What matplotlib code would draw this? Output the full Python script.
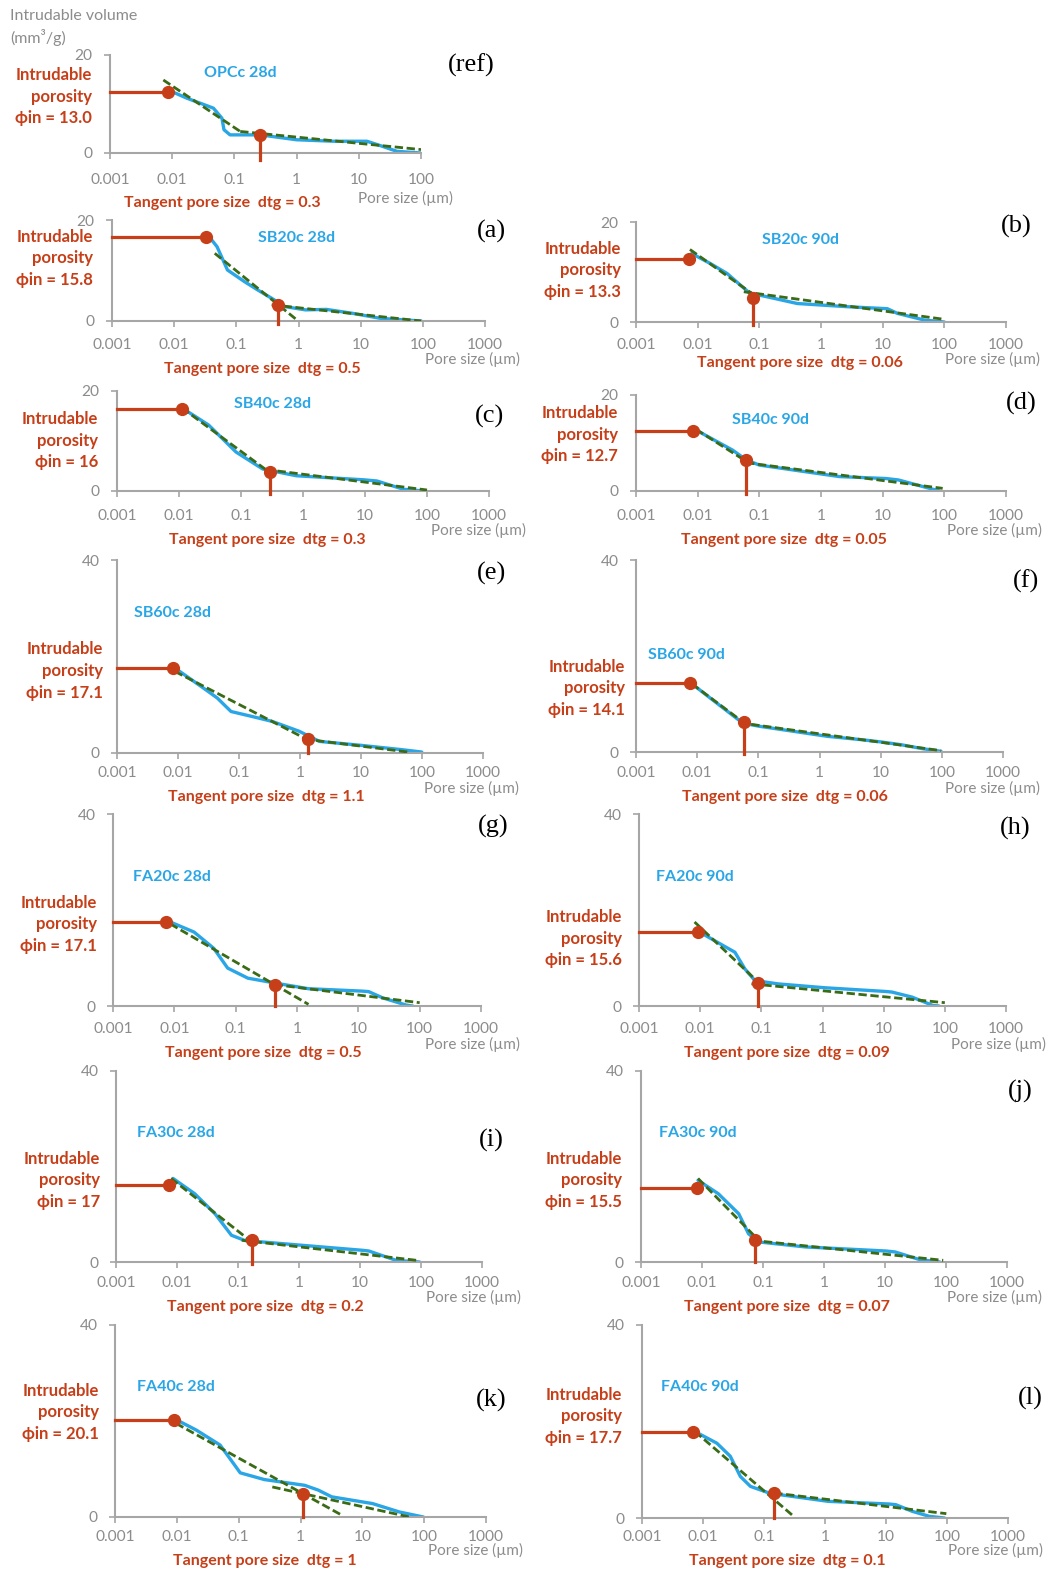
import matplotlib
matplotlib.use('Agg')
import matplotlib.pyplot as plt

plt.rcParams['font.family'] = ['Lato', 'DejaVu Sans']

W, H = 1051, 1573

# ---------------- Datos ----------------
panel_tags = ['(ref)', '(a)', '(b)', '(c)', '(d)', '(e)', '(f)', '(g)', '(h)',
              '(i)', '(j)', '(k)', '(l)']
samples = ['OPCc 28d', 'SB20c 28d', 'SB20c 90d', 'SB40c 28d', 'SB40c 90d',
           'SB60c 28d', 'SB60c 90d', 'FA20c 28d', 'FA20c 90d', 'FA30c 28d',
           'FA30c 90d', 'FA40c 28d', 'FA40c 90d']
phi_in = ['13.0', '15.8', '13.3', '16', '12.7', '17.1', '14.1', '17.1', '15.6',
          '17', '15.5', '20.1', '17.7']
d_tg = ['0.3', '0.5', '0.06', '0.3', '0.05', '1.1', '0.06', '0.5', '0.09',
        '0.2', '0.07', '1', '0.1']
y_max = [20, 20, 20, 20, 20, 40, 40, 40, 40, 40, 40, 40, 40]
x_max = [100, 1000, 1000, 1000, 1000, 1000, 1000, 1000, 1000, 1000, 1000, 1000, 1000]
x_ticklabels = ['0.001', '0.01', '0.1', '1', '10', '100', '1000']

# curva de intrusion (azul)
curve_x = [
    [0.0085, 0.0171, 0.046, 0.063, 0.068, 0.085, 0.26, 1.0, 3.9, 13.5, 20, 41, 100],
    [0.036, 0.049, 0.072, 0.135, 0.224, 0.37, 0.61, 1.3, 2.8, 7.6, 20.7, 94],
    [0.008, 0.016, 0.030, 0.046, 0.071, 0.117, 0.41, 2.66, 11.9, 17.3, 47, 100],
    [0.0112, 0.030, 0.083, 0.224, 0.78, 9.5, 15.6, 42, 89],
    [0.0094, 0.037, 0.061, 0.1, 0.57, 2.0, 11.3, 18, 83],
    [0.0089, 0.0265, 0.044, 0.074, 0.16, 0.35, 0.97, 2.09, 9.8, 46, 99],
    [0.0082, 0.0177, 0.056, 0.105, 0.38, 1.35, 4.8, 10.4, 22, 48, 97],
    [0.0086, 0.021, 0.044, 0.074, 0.158, 0.43, 1.54, 11.6, 14.7, 24.9, 60, 77],
    [0.0092, 0.0196, 0.037, 0.054, 0.0785, 0.19, 1.1, 10.7, 13.7, 29, 63, 80],
    [0.0086, 0.0195, 0.042, 0.078, 0.13, 1.12, 11, 14, 39, 95],
    [0.0086, 0.0185, 0.04, 0.058, 0.085, 0.5, 10.5, 14.7, 37, 79],
    [0.0097, 0.0207, 0.05, 0.083, 0.106, 0.26, 1.17, 1.94, 3.2, 14.6, 40, 97],
    [0.0074, 0.0169, 0.028, 0.041, 0.06, 0.114, 0.19, 1.13, 11.2, 14.5, 27, 51.5, 91],
]
curve_y = [
    [12.9, 11.2, 9.15, 7.1, 4.75, 3.7, 3.7, 2.7, 2.4, 2.4, 1.7, 0.34, 0],
    [16.8, 14.7, 10.1, 7.8, 6.1, 4.5, 2.84, 2.2, 2.3, 1.5, 0.53, 0],
    [13.7, 11.7, 9.7, 7.7, 5.7, 5.2, 3.7, 3.06, 2.66, 1.73, 0.4, 0],
    [16.6, 13.2, 7.8, 4.4, 3.05, 2.24, 2.0, 0.34, 0],
    [12.7, 8.5, 6.5, 5.4, 4.0, 3.0, 2.6, 2.3, 0],
    [17.6, 13.4, 11.4, 8.6, 7.6, 6.55, 4.5, 2.4, 1.6, 0.7, 0.2],
    [14.2, 10.9, 6.0, 5.35, 4.3, 3.26, 2.57, 2.08, 1.5, 0.7, 0.14],
    [17.5, 15.4, 12.0, 7.9, 5.8, 4.8, 3.6, 3.1, 3.0, 1.7, 0.2, 0],
    [15.6, 13.2, 11.2, 7.7, 5.3, 4.6, 3.8, 3.03, 2.9, 1.86, 0.14, 0],
    [17.5, 14.3, 10.1, 5.6, 4.5, 3.5, 2.45, 2.3, 0.35, 0],
    [17.1, 14.3, 10.1, 5.9, 4.2, 3.15, 2.3, 2.1, 0.5, 0],
    [20.3, 18.1, 15.0, 11.1, 9.2, 7.8, 6.6, 5.6, 4.2, 2.8, 1.04, 0],
    [17.9, 15.5, 12.8, 8.6, 6.55, 5.3, 4.8, 3.45, 2.9, 2.76, 1.38, 0.34, 0],
]

# tangentes (verde discontinua)
tan1_x = [[0.0072, 0.124], [0.045, 0.99], [0.0075, 0.076], [0.0112, 0.25],
          [0.0094, 0.069], [0.0089, 1.33], [0.0082, 0.059], [0.0086, 1.54],
          [0.0081, 0.089], [0.008, 0.168], [0.0086, 0.085], [0.0097, 4.7],
          [0.0074, 0.316]]
tan1_y = [[14.9, 4.4], [13.4, 0], [14.5, 5.7], [16.6, 4.3], [12.85, 5.76],
          [16.9, 2.76], [14.2, 6.04], [17.1, 0.34], [17.5, 4.97], [17.5, 4.2],
          [17.5, 4.55], [19.5, 0.35], [17.9, 0.2]]
tan2_x = [[0.124, 100], [0.37, 94], [0.056, 100], [0.25, 100], [0.061, 94],
          [1.17, 59], [0.049, 97], [0.43, 100], [0.069, 100], [0.115, 95],
          [0.066, 90], [0.35, 58.5], [0.147, 97.5]]
tan2_y = [[4.4, 0.7], [3.2, 0], [6.05, 0.53], [4.3, 0.2], [5.9, 0.55],
          [2.9, 0.2], [6.1, 0.28], [4.46, 0.69], [4.62, 0.69], [4.55, 0.28],
          [4.55, 0.35], [6.26, 0], [5.17, 0.9]]

# puntos rojos
dot_in_x = [0.0085, 0.033, 0.0072, 0.0112, 0.0083, 0.0083, 0.0077, 0.0072,
            0.0092, 0.0074, 0.0082, 0.0091, 0.0069]
dot_in_y = [12.5, 16.7, 12.7, 16.4, 12.6, 17.7, 14.4, 17.5, 15.4, 16.1, 15.4,
            20.2, 17.9]
dot_tg_x = [0.26, 0.46, 0.079, 0.29, 0.061, 1.37, 0.059, 0.43, 0.089, 0.168,
            0.0745, 1.1, 0.144]
dot_tg_y = [3.7, 3.17, 4.85, 3.73, 6.46, 2.97, 6.25, 4.46, 4.76, 4.55, 4.55,
            4.73, 5.17]

# ---------------- Layout (pixeles) ----------------
# L, R, Y0, YT, label right x, label center y, sample (x, y), tag (x, y),
# tangent text (x, y), pore size text (right x, y), x tick label y, drop below axis
layout = [
    (110, 421, 153, 55, 92, 97, (240, 73), (471, 65), (222, 203), (453, 198), 178, 7),
    (112, 485, 321, 220, 93, 258, (297, 238), (491, 231), (262, 369), (520, 359), 343, 3),
    (636, 1006, 322, 222, 621, 270, (800, 240), (1016, 226), (800, 363), (1040, 359), 343, 3),
    (117, 489, 491, 391, 98, 441, (273, 404), (490, 416), (267, 540), (526, 530), 514, 3),
    (636, 1006, 491, 395, 618, 435, (770, 420), (1021, 403), (784, 540), (1042, 530), 514, 3),
    (117, 483, 753, 560, 103, 671, (172, 613), (491, 573), (266, 797), (519, 788), 771, 0),
    (636, 1003, 752, 560, 625, 688, (686, 655), (1026, 581), (785, 797), (1040, 788), 771, 2),
    (113, 481, 1006, 814, 97, 924, (172, 877), (493, 826), (263, 1053), (520, 1044), 1027, 0),
    (639, 1006, 1006, 814, 622, 939, (695, 877), (1015, 828), (787, 1053), (1046, 1044), 1027, 0),
    (116, 482, 1262, 1071, 100, 1180, (176, 1133), (491, 1140), (265, 1307), (521, 1297), 1281, 2),
    (641, 1007, 1262, 1071, 622, 1180, (698, 1133), (1020, 1091), (787, 1307), (1042, 1297), 1281, 0),
    (115, 486, 1517, 1325, 99, 1412, (176, 1387), (491, 1400), (265, 1561), (523, 1550), 1535, 0),
    (642, 1008, 1518, 1325, 622, 1416, (700, 1387), (1030, 1398), (787, 1561), (1043, 1550), 1535, 0),
]

RED = '#C63F18'
BLUE = '#2AA6E6'
GREEN = '#3A6B16'
GRAY_AX = '#A6A6A6'
GRAY_TXT = '#8C8C8C'

fig = plt.figure(figsize=(W / 100, H / 100), dpi=100)


def ftext(x, y, s, **kw):
    fig.text(x / W, 1 - y / H, s, **kw)


for i in range(len(samples)):
    L, R, Y0, YT, lrx, lcy, s_xy, t_xy, tg_xy, p_xy, xty, drop = layout[i]
    ax = fig.add_axes([L / W, 1 - Y0 / H, (R - L) / W, (Y0 - YT) / H])
    ax.set_xscale('log')
    ax.set_xlim(0.001, x_max[i])
    ax.set_ylim(0, y_max[i])
    ax.patch.set_alpha(0)

    for sp in ['top', 'right']:
        ax.spines[sp].set_visible(False)
    for sp in ['left', 'bottom']:
        ax.spines[sp].set_color(GRAY_AX)
        ax.spines[sp].set_linewidth(1.5)

    n_ticks = 6 if x_max[i] == 100 else 7
    ticks = [10.0 ** (k - 3) for k in range(n_ticks)]
    ax.set_xticks(ticks)
    ax.set_xticklabels(x_ticklabels[:n_ticks])
    ax.minorticks_off()
    ax.set_yticks([0, y_max[i]])
    pad_x = max((xty - Y0 - 6 - 8) * 0.72, 1) + 2
    ax.tick_params(axis='x', direction='out', length=4.5, width=1.2,
                   color=GRAY_AX, labelcolor=GRAY_TXT, labelsize=11.2, pad=pad_x)
    ax.tick_params(axis='y', direction='out', length=4.5, width=1.2,
                   color=GRAY_AX, labelcolor=GRAY_TXT, labelsize=11.2, pad=8)

    # curva azul
    ax.plot(curve_x[i], curve_y[i], color=BLUE, lw=2.4, zorder=2,
            solid_capstyle='round', solid_joinstyle='round')
    # tangentes
    ax.plot(tan1_x[i], tan1_y[i], color=GREEN, lw=2, ls=(0, (3, 1.3)), zorder=3)
    ax.plot(tan2_x[i], tan2_y[i], color=GREEN, lw=2, ls=(0, (3, 1.3)), zorder=3)

    # porosidad intrudible
    ax.plot([0.001, dot_in_x[i]], [dot_in_y[i], dot_in_y[i]], color=RED,
            lw=2.3, zorder=4, clip_on=False)
    ax.plot(dot_in_x[i], dot_in_y[i], 'o', color=RED, ms=8.5, zorder=5,
            clip_on=False)

    # tamano de poro tangente
    y_low = -drop * y_max[i] / (Y0 - YT)
    ax.plot([dot_tg_x[i], dot_tg_x[i]], [dot_tg_y[i], y_low], color=RED,
            lw=2.3, zorder=4, clip_on=False)
    ax.plot(dot_tg_x[i], dot_tg_y[i], 'o', color=RED, ms=8.5, zorder=5,
            clip_on=False)

    # textos
    lines = ['Intrudable', 'porosity', 'ϕin = ' + phi_in[i]]
    for k, line in enumerate(lines):
        ftext(lrx, lcy + (k - 1) * 21.5, line, ha='right', va='center',
              color=RED, fontsize=12, fontweight='bold')
    ftext(s_xy[0], s_xy[1], samples[i], ha='center', va='center',
          color=BLUE, fontsize=11.5, fontweight='bold')
    ftext(t_xy[0], t_xy[1], panel_tags[i], ha='center', va='center',
          color='black', fontsize=19, family='Liberation Serif')
    ftext(tg_xy[0], tg_xy[1], 'Tangent pore size  dtg = ' + d_tg[i],
          ha='center', va='center', color=RED, fontsize=11.5, fontweight='bold')
    ftext(p_xy[0], p_xy[1], 'Pore size (µm)', ha='right', va='center',
          color=GRAY_TXT, fontsize=11)

ftext(10, 16, 'Intrudable volume', ha='left', va='center', color=GRAY_TXT,
      fontsize=11.5)
ftext(10, 38, '(mm³/g)', ha='left', va='center', color=GRAY_TXT, fontsize=11.5)

fig.savefig('out.png', dpi=100)
